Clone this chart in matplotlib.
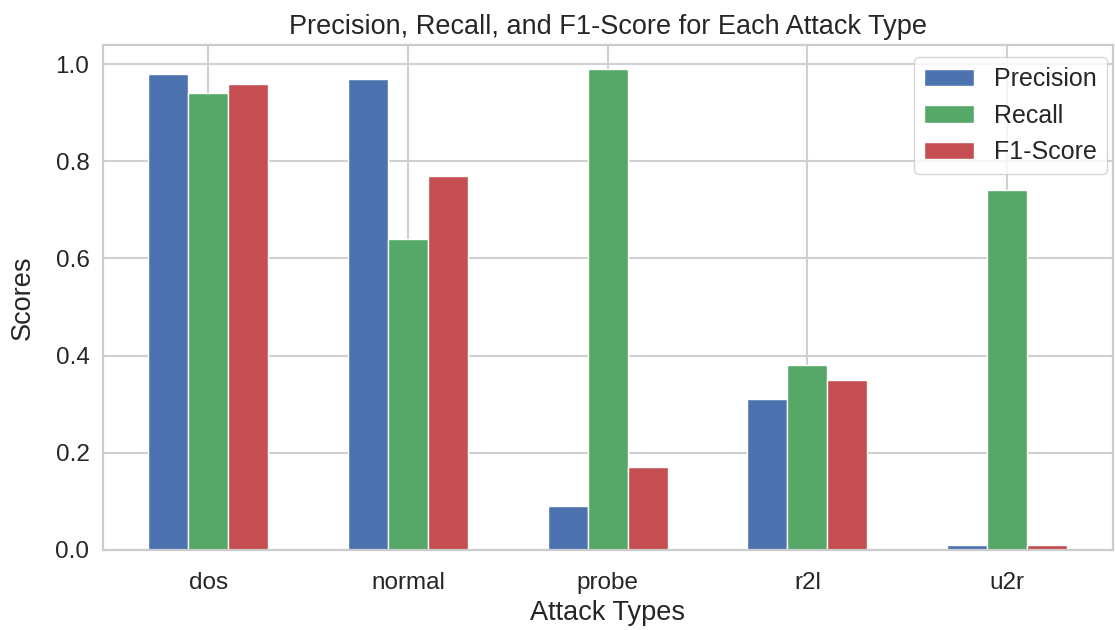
import matplotlib
matplotlib.use("Agg")
import matplotlib.pyplot as plt
import numpy as np
import seaborn as sns

categories = ["dos", "normal", "probe", "r2l", "u2r"]
precision = [0.98, 0.97, 0.09, 0.31, 0.01]
recall = [0.94, 0.64, 0.99, 0.38, 0.74]
f1 = [0.96, 0.77, 0.17, 0.35, 0.01]

sns.set_theme(style="whitegrid")
plt.rcParams["font.family"] = ["Liberation Sans", "DejaVu Sans"]

fig = plt.figure(figsize=(11.15, 6.3), dpi=100)
ax = fig.add_axes([0.092, 0.127, 0.906, 0.802])

x = np.arange(len(categories))
w = 0.2
cols = ["#4C72B0", "#55A868", "#C44E52"]
ax.bar(x - w, precision, w, label="Precision", color=cols[0], edgecolor="white", linewidth=1)
ax.bar(x, recall, w, label="Recall", color=cols[1], edgecolor="white", linewidth=1)
ax.bar(x + w, f1, w, label="F1-Score", color=cols[2], edgecolor="white", linewidth=1)

ax.set_xticks(x)
ax.set_xticklabels(categories)
ax.tick_params(axis="both", labelsize=17.5, colors="#262626")
ax.tick_params(axis="x", pad=10)
ax.set_xlabel("Attack Types", fontsize=19.5, color="#262626", labelpad=4)
ax.set_ylabel("Scores", fontsize=19.5, color="#262626", labelpad=14)
ax.set_title("Precision, Recall, and F1-Score for Each Attack Type", fontsize=19.5, color="#262626", pad=8)
ax.set_yticks([0.0, 0.2, 0.4, 0.6, 0.8, 1.0])
ax.set_ylim(0, 1.04)
ax.grid(True, color="#d0d0d0", linewidth=1.5)
for s in ax.spines.values():
    s.set_color("#cccccc")
    s.set_linewidth(1.6)
ax.set_axisbelow(True)
leg = ax.legend(fontsize=18, loc="upper right", framealpha=0.8, handlelength=2.0,
                bbox_to_anchor=(1.007, 1.0))

fig.savefig("out.png", dpi=100)
